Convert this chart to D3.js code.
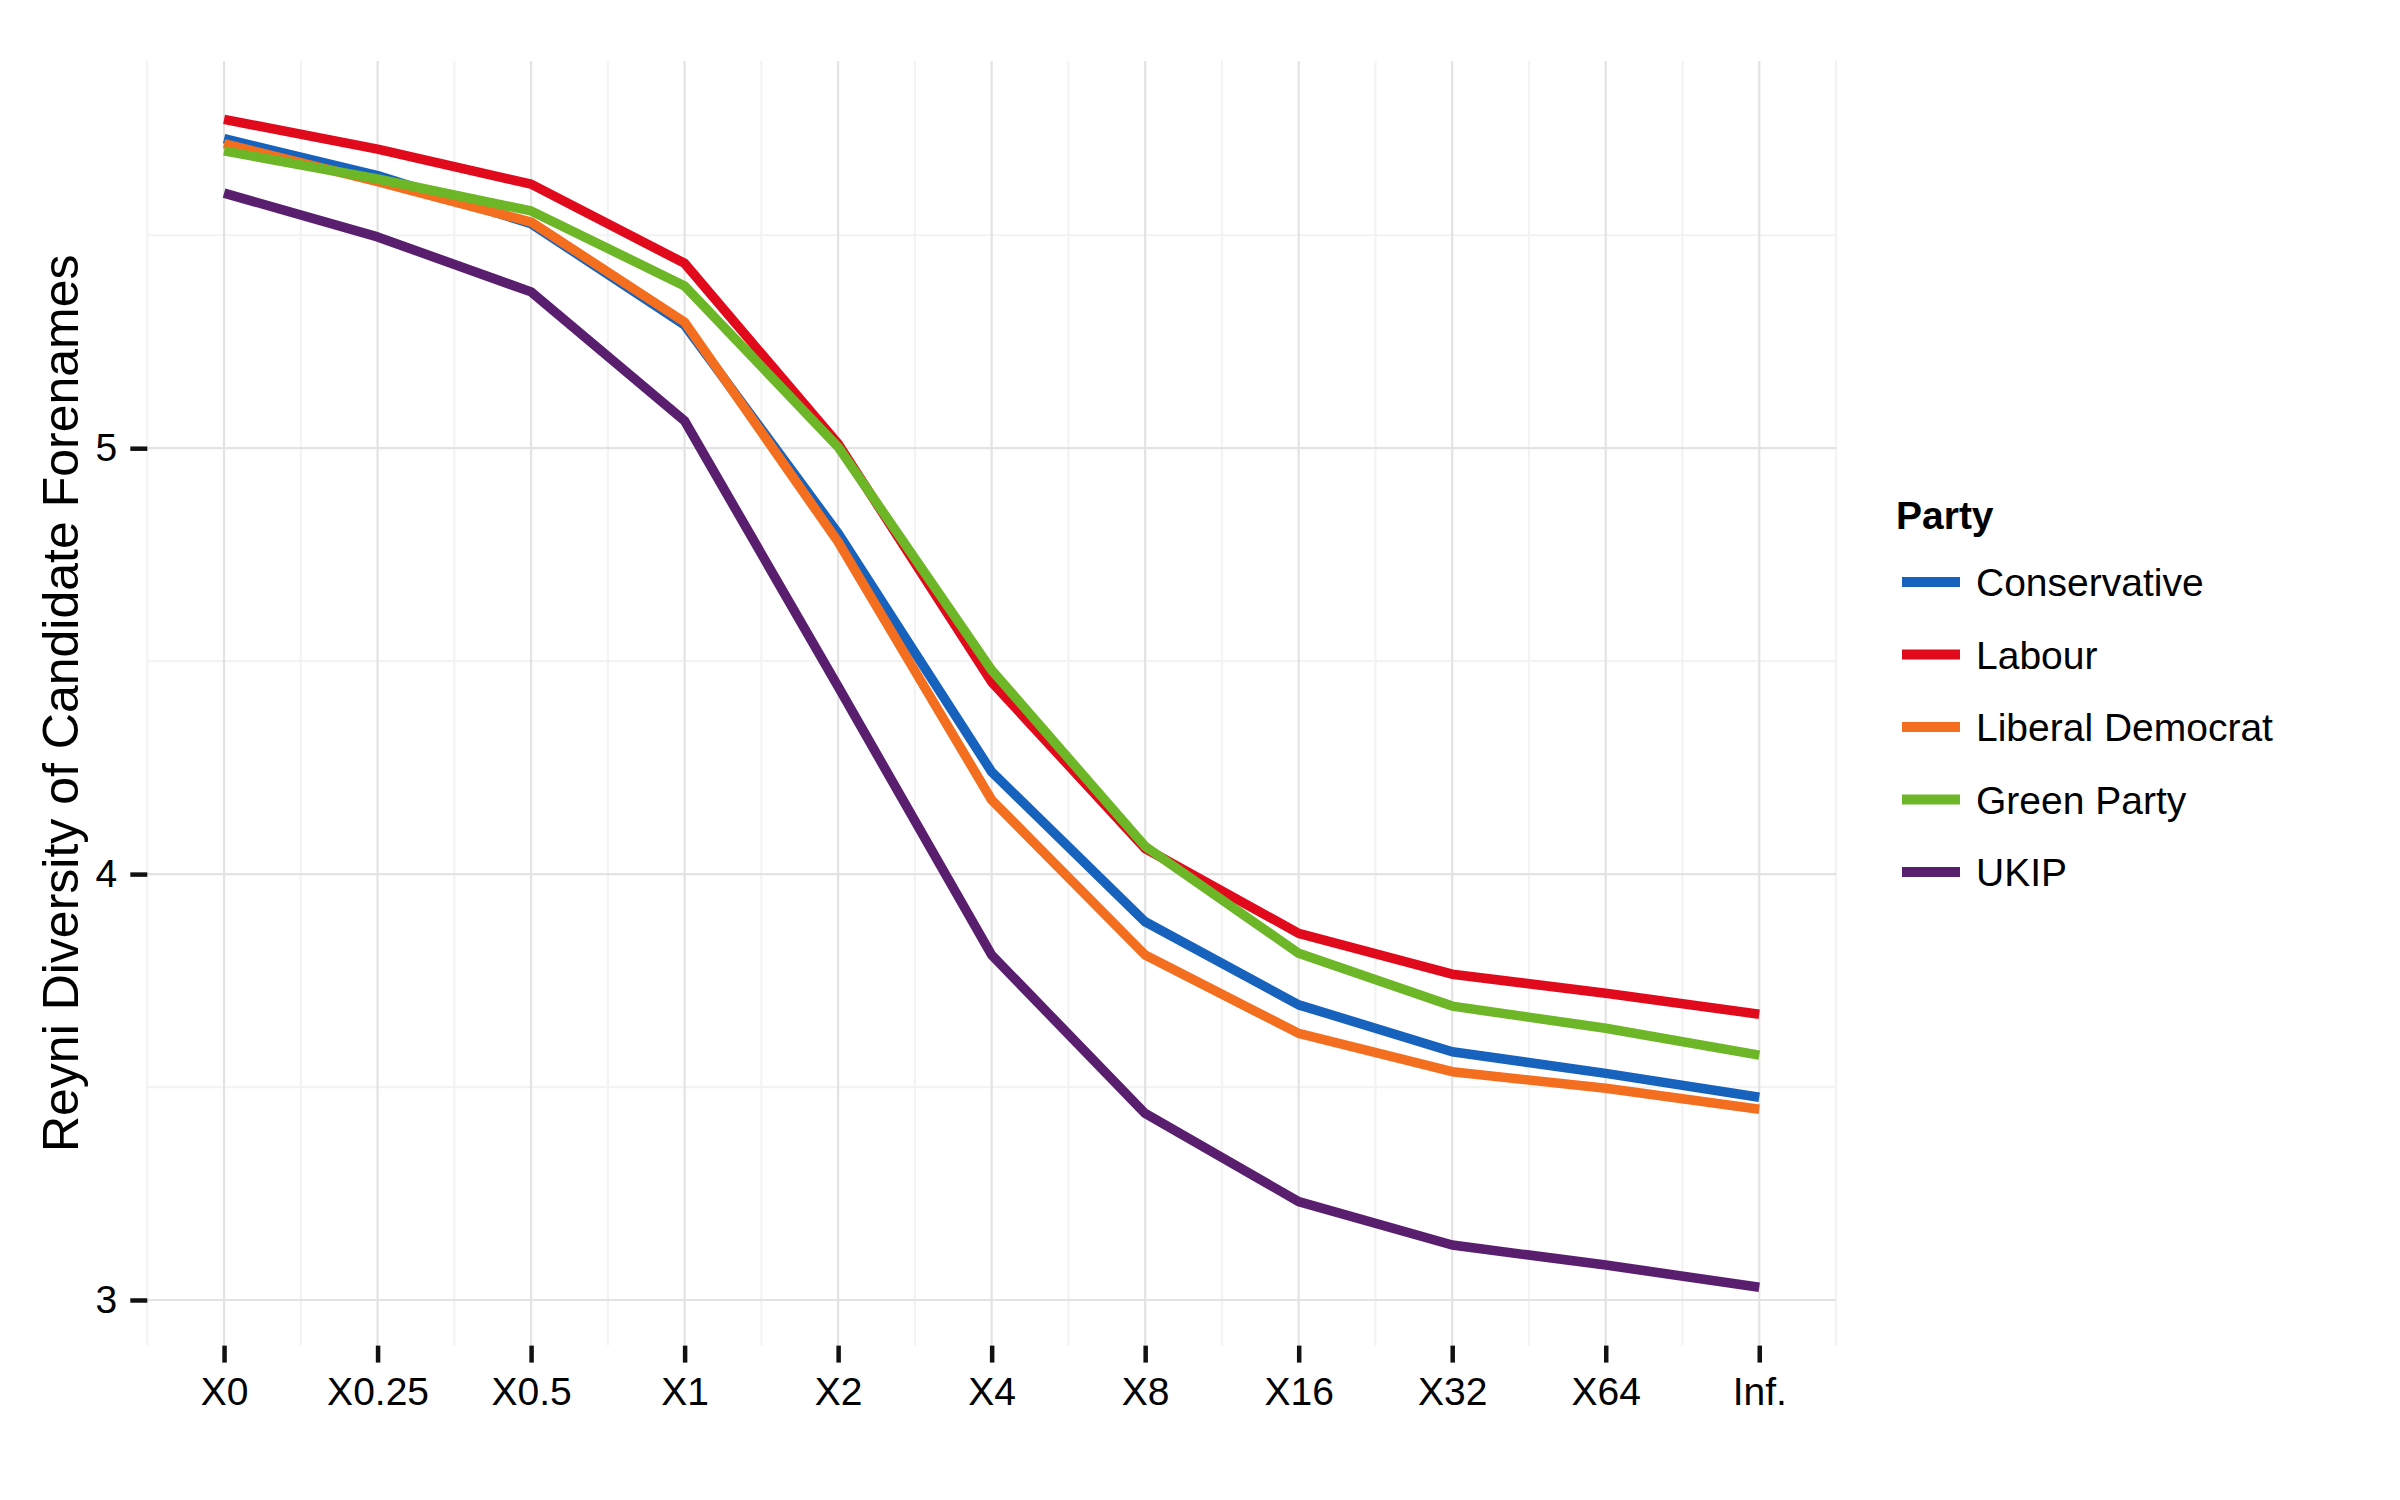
<!DOCTYPE html>
<html>
<head>
<meta charset="utf-8">
<script src="https://cdn.jsdelivr.net/npm/d3@7"></script>
<style>
	body { margin: 0; background: #fff; }
	svg { display: block; }
	text { font-family: "Liberation Sans", Arial, Helvetica, sans-serif; fill: #000; }
</style>
</head>
<body>
<svg id="chart" width="2400" height="1500"></svg>
<script>
'use strict';

let categories = ['X0', 'X0.25', 'X0.5', 'X1', 'X2', 'X4', 'X8', 'X16', 'X32', 'X64', 'Inf.'];

let parties = ['Conservative', 'Labour', 'Liberal Democrat', 'Green Party', 'UKIP'];
let partyColors = ['#1662BC', '#E10A1D', '#F46E20', '#6CB628', '#5A1E6F'];

let conservative = [5.727, 5.640, 5.527, 5.289, 4.800, 4.240, 3.888, 3.693, 3.583, 3.532, 3.476];
let labour       = [5.772, 5.702, 5.620, 5.434, 5.010, 4.451, 4.060, 3.861, 3.765, 3.720, 3.671];
let libDem       = [5.715, 5.626, 5.531, 5.296, 4.780, 4.174, 3.810, 3.626, 3.536, 3.497, 3.448];
let green        = [5.698, 5.632, 5.557, 5.381, 5.003, 4.479, 4.065, 3.814, 3.690, 3.638, 3.575];
let ukip         = [5.599, 5.496, 5.367, 5.064, 4.440, 3.810, 3.438, 3.231, 3.129, 3.082, 3.030];

let seriesValues = [conservative, labour, libDem, green, ukip];

let yTicks = [3, 4, 5];
let yMinor = [3.5, 4.5, 5.5];
let yTitle = 'Reyni Diversity of Candidate Forenames';
let legendTitle = 'Party';

let panel = { left: 147.3, right: 1836, top: 61, bottom: 1345.6 };

let svg = d3.select('#chart');

// x: discrete positions, half a step padding on both sides (ggplot style)
let x = d3.scalePoint()
	.domain(categories)
	.range([panel.left, panel.right])
	.padding(0.5);
let step = x.step();

// y: data range expanded by 5% each side
let all = seriesValues.flat();
let lo = d3.min(all), hi = d3.max(all);
let pad = (hi - lo) * 0.05;
let y = d3.scaleLinear()
	.domain([lo - pad, hi + pad])
	.range([panel.bottom, panel.top]);

let grid = svg.append('g');

// minor grid
grid.selectAll('line.ymin')
	.data(yMinor)
	.enter().append('line')
	.attr('x1', panel.left).attr('x2', panel.right)
	.attr('y1', d => y(d)).attr('y2', d => y(d))
	.attr('stroke', '#F3F3F3').attr('stroke-width', 2.2);

let xMinor = d3.range(categories.length + 1).map(i => panel.left + i * step);
grid.selectAll('line.xmin')
	.data(xMinor)
	.enter().append('line')
	.attr('x1', d => d).attr('x2', d => d)
	.attr('y1', panel.top).attr('y2', panel.bottom)
	.attr('stroke', '#F3F3F3').attr('stroke-width', 2.2);

// major grid
grid.selectAll('line.ymaj')
	.data(yTicks)
	.enter().append('line')
	.attr('x1', panel.left).attr('x2', panel.right)
	.attr('y1', d => y(d)).attr('y2', d => y(d))
	.attr('stroke', '#E3E3E3').attr('stroke-width', 2.2);

grid.selectAll('line.xmaj')
	.data(categories)
	.enter().append('line')
	.attr('x1', d => x(d)).attr('x2', d => x(d))
	.attr('y1', panel.top).attr('y2', panel.bottom)
	.attr('stroke', '#E3E3E3').attr('stroke-width', 2.2);

// axes
let xAxis = d3.axisBottom(x).tickSizeInner(17).tickSizeOuter(0).tickPadding(14);
let gx = svg.append('g')
	.attr('transform', `translate(0,${panel.bottom})`)
	.call(xAxis);
gx.select('.domain').remove();
gx.selectAll('.tick line').attr('stroke', '#111').attr('stroke-width', 4.5);
gx.selectAll('.tick text')
	.attr('font-size', 39)
	.attr('dy', '0.72em')
	.attr('fill', '#000');

let yAxis = d3.axisLeft(y).tickValues(yTicks).tickSizeInner(17).tickSizeOuter(0).tickPadding(13)
	.tickFormat(d3.format('d'));
let gy = svg.append('g')
	.attr('transform', `translate(${panel.left},0)`)
	.call(yAxis);
gy.select('.domain').remove();
gy.selectAll('.tick line').attr('stroke', '#111').attr('stroke-width', 4.5);
gy.selectAll('.tick text')
	.attr('font-size', 39)
	.attr('fill', '#000');

svg.append('text')
	.attr('transform', `translate(78,${(panel.top + panel.bottom) / 2}) rotate(-90)`)
	.attr('text-anchor', 'middle')
	.attr('font-size', 50)
	.text(yTitle);

// series lines
let line = d3.line()
	.x((d, i) => x(categories[i]))
	.y(d => y(d));

svg.append('g').selectAll('path')
	.data(seriesValues)
	.enter().append('path')
	.attr('d', line)
	.attr('fill', 'none')
	.attr('stroke', (d, i) => partyColors[i])
	.attr('stroke-width', 9.5)
	.attr('stroke-linejoin', 'round')
	.attr('stroke-linecap', 'butt');

// legend
let legend = svg.append('g').attr('transform', 'translate(1902,0)');

legend.append('text')
	.attr('x', -6)
	.attr('y', 529)
	.attr('font-size', 39)
	.attr('font-weight', 'bold')
	.text(legendTitle);

let keys = legend.selectAll('g.key')
	.data(parties)
	.enter().append('g')
	.attr('transform', (d, i) => `translate(0,${582 + i * 72.5})`);

keys.append('line')
	.attr('x1', 0).attr('x2', 58)
	.attr('y1', 0).attr('y2', 0)
	.attr('stroke', (d, i) => partyColors[i])
	.attr('stroke-width', 10);

keys.append('text')
	.attr('x', 74)
	.attr('y', 14)
	.attr('font-size', 39)
	.text(d => d);
</script>
</body>
</html>
